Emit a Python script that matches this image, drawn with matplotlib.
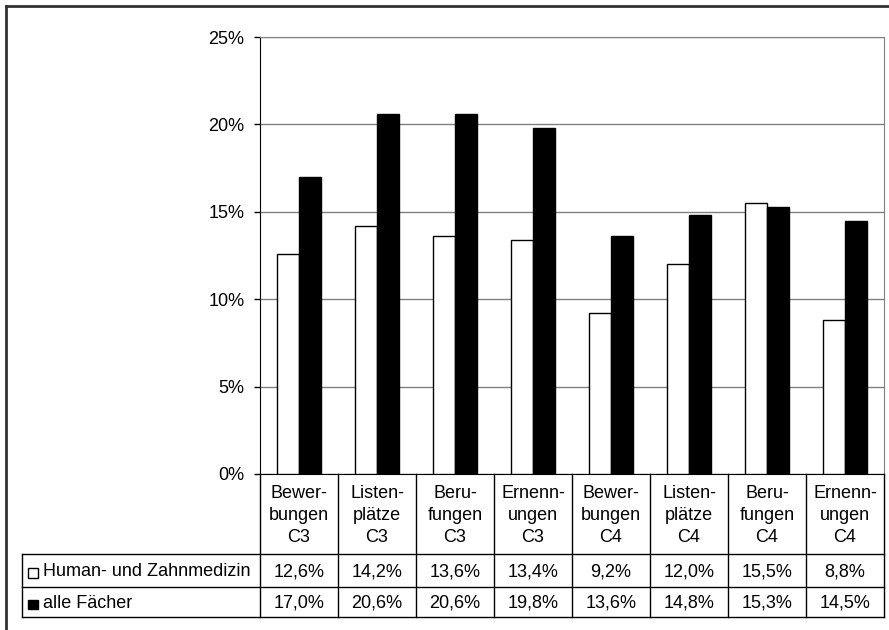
import matplotlib.pyplot as plt
from matplotlib.patches import Rectangle
from matplotlib.ticker import FuncFormatter

plt.rcParams['font.family'] = ['Liberation Sans', 'DejaVu Sans']

# Kategorien (dreizeilig wie in der Datentabelle)
categories = ['Bewer-\nbungen\nC3', 'Listen-\nplätze\nC3', 'Beru-\nfungen\nC3', 'Ernenn-\nungen\nC3',
              'Bewer-\nbungen\nC4', 'Listen-\nplätze\nC4', 'Beru-\nfungen\nC4', 'Ernenn-\nungen\nC4']
series_names = ['Human- und Zahnmedizin', 'alle Fächer']
human = [12.6, 14.2, 13.6, 13.4, 9.2, 12.0, 15.5, 8.8]
alle = [17.0, 20.6, 20.6, 19.8, 13.6, 14.8, 15.3, 14.5]
yticks = [0, 5, 10, 15, 20, 25]

W, H = 889, 630
fig = plt.figure(figsize=(W / 100, H / 100), dpi=100)

# layout in pixels
px_left, px_right = 260, 884
px_top, px_zero = 37, 474
tab_left, tab_bottom = 22, 617
row1, row2 = 554, 587
fs = 13

ax = fig.add_axes([px_left / W, (H - px_zero) / H, (px_right - px_left) / W, (px_zero - px_top) / H])
n = len(categories)
bw = 1 / 3.5  # gap width 150 %
xs = list(range(n))
ax.bar([x - bw / 2 for x in xs], human, width=bw, color='white', edgecolor='black', linewidth=1, zorder=3)
ax.bar([x + bw / 2 for x in xs], alle, width=bw, color='black', edgecolor='black', linewidth=1, zorder=3)
ax.set_xlim(-0.5, n - 0.5)
ax.set_ylim(0, 25)
ax.set_yticks(yticks)
ax.yaxis.set_major_formatter(FuncFormatter(lambda v, p: f'{v:.0f}%'))
ax.tick_params(axis='y', direction='out', length=4.3, width=1, labelsize=fs, pad=7)
ax.set_xticks([])
ax.grid(axis='y', color='#808080', linewidth=1, zorder=0)
for s in ['top', 'right']:
    ax.spines[s].set_color('#808080')
ax.spines['left'].set_color('black')
ax.spines['bottom'].set_color('black')

# Datentabelle unter der Achse
tax = fig.add_axes([0, 0, 1, 1])
tax.set_xlim(0, W)
tax.set_ylim(H, 0)
tax.axis('off')
colw = (px_right - px_left) / n
lc = dict(color='black', linewidth=1)
for i in range(n + 1):
    x = px_left + i * colw
    tax.plot([x, x], [px_zero, tab_bottom], **lc)
tax.plot([tab_left, tab_left], [row1, tab_bottom], **lc)
for y in [row1, row2, tab_bottom]:
    tax.plot([tab_left, px_right], [y, y], **lc)

y_r1 = (row1 + row2) / 2 + 1.5
y_r2 = (row2 + tab_bottom) / 2 + 1.5
for i, cat in enumerate(categories):
    cx = px_left + (i + 0.5) * colw
    for j, line in enumerate(cat.split('\n')):
        tax.text(cx, 493 + j * 22.5, line, ha='center', va='center', fontsize=fs)
    tax.text(cx, y_r1, f'{human[i]:.1f}%'.replace('.', ','), ha='center', va='center', fontsize=fs)
    tax.text(cx, y_r2, f'{alle[i]:.1f}%'.replace('.', ','), ha='center', va='center', fontsize=fs)

# Legendensymbole + Reihennamen
for name, fc, yc in zip(series_names, ['white', 'black'], [y_r1, y_r2]):
    tax.add_patch(Rectangle((28, yc - 4), 9.5, 9.5, facecolor=fc, edgecolor='black', linewidth=1))
    tax.text(43, yc, name, ha='left', va='center', fontsize=fs)

# Rahmen des Diagrammbereichs
tax.plot([6, 6], [6, H + 5], color='#333333', linewidth=2)
tax.plot([6, W + 5], [6, 6], color='#333333', linewidth=2)

fig.savefig('out.png', dpi=100)
